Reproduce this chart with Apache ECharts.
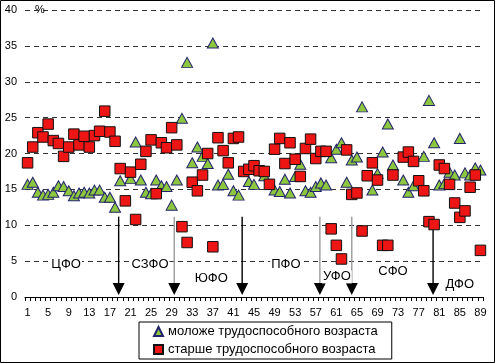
<!DOCTYPE html>
<html><head><meta charset="utf-8">
<script src="https://cdn.jsdelivr.net/npm/echarts@6/dist/echarts.min.js"></script>
<style>html,body{margin:0;padding:0;background:#fff}#c{width:495px;height:363px}</style>
</head><body><div id="c"></div>
<script>
// ---- data ----
const categories = ['1','2','3','4','5','6','7','8','9','10','11','12','13','14','15','16','17','18','19','20','21','22','23','24','25','26','27','28','29','30','31','32','33','34','35','36','37','38','39','40','41','42','43','44','45','46','47','48','49','50','51','52','53','54','55','56','57','58','59','60','61','62','63','64','65','66','67','68','69','70','71','72','73','74','75','76','77','78','79','80','81','82','83','84','85','86','87','88','89'];
const seriesNames = ['моложе трудоспособного возраста', 'старше трудоспособного возраста'];
// younger than working age (%), one value per region 1..89 (null = not visible)
const young = [15.7,16.0,14.6,14.2,14.3,14.6,15.5,15.4,14.8,14.1,
               14.5,14.6,14.5,14.9,14.9,13.9,13.9,12.5,16.2,null,
               16.5,21.6,16.3,14.6,14.4,16.3,15.5,15.4,12.8,16.3,
               24.9,32.7,18.7,20.9,19.6,18.6,35.4,15.6,15.7,17.1,
               14.8,14.2,null,16.1,15.7,null,16.9,null,14.9,14.7,
               16.4,14.5,16.8,18.5,14.8,14.6,15.4,15.9,15.6,19.4,
               20.6,21.5,16.0,19.1,19.5,26.5,null,14.9,17.2,20.2,
               24.1,18.4,null,16.3,14.6,15.5,null,19.6,27.4,21.5,
               15.6,15.8,17.4,17.0,22.1,17.3,17.0,18.0,17.7];
// older than working age (%)
const old = [18.7,20.9,22.9,22.3,24.1,21.8,21.4,19.6,20.9,22.7,
             21.2,22.4,20.9,22.5,23.1,25.9,23.0,21.7,17.9,13.4,
             17.4,10.8,18.5,20.3,21.9,14.4,21.5,20.8,23.6,21.2,
             9.8,7.6,16.0,14.8,17.0,20.0,7.0,22.2,20.4,18.7,
             22.1,22.3,17.5,17.8,18.3,17.6,17.5,15.7,20.6,22.1,
             18.6,21.5,19.2,16.8,20.7,22.0,19.3,20.3,20.3,9.5,
             7.2,5.3,20.5,14.3,14.5,9.2,16.9,18.7,16.3,7.2,
             7.2,17.0,null,19.5,20.2,18.9,16.2,14.8,10.5,10.1,
             18.4,17.9,15.7,13.1,11.1,12.0,15.3,17.0,6.5];
const yTicks = [0,5,10,15,20,25,30,35,40];
// district boundaries (region index) and where arrows start (%)
const arrowAt  = [18.7, 29.5, 42.7, 57.8, 64.0, 79.8];
const arrowTop = [11.2, 11.2, 11.2, 11.2, 11.2, 11.2];
const districtNames = ['ЦФО','СЗФО','ЮФО','ПФО','УФО','СФО','ДФО'];
const districtAnchorX = [8.5, 24.8, 36.7, 51.2, 61.1, 72.0, 85.0];
const districtAnchorY = [4.6, 4.6, 2.6, 4.6, 2.8, 3.5, 1.8];

// ---- styles ----
const grayShaft = [false, true, false, true, true, false];
const FONT = 'Arial, "Liberation Sans", sans-serif';

const chart = echarts.init(document.getElementById('c'), null, {renderer:'canvas'});
chart.setOption({
  animation: false,
  backgroundColor: '#fff',
  textStyle: {fontFamily: FONT},
  grid: {left: 25, right: 12, top: 10, bottom: 66},
  legend: {
    orient: 'vertical', left: 139, top: 322,
    borderColor: '#000', borderWidth: 1, padding: [3, 14, 3, 14],
    itemGap: 5, itemWidth: 9, itemHeight: 9,
    textStyle: {fontSize: 13, color: '#000', fontFamily: FONT},
    data: seriesNames
  },
  xAxis: [{
    type: 'category', data: categories, boundaryGap: true,
    axisLine: {lineStyle: {color: '#000', width: 1}},
    axisTick: {show: true, interval: 0, length: 4, lineStyle: {color: '#000'}},
    axisLabel: {interval: 3, fontSize: 11, color: '#000', margin: 10, fontFamily: FONT},
    splitLine: {show: false}
  }, {
    type: 'value', min: 0.5, max: 89.5, show: false, position: 'bottom',
    splitLine: {show: false}
  }],
  yAxis: {
    type: 'value', min: yTicks[0], max: yTicks[yTicks.length-1], interval: 5,
    name: '%', nameLocation: 'end', nameGap: 0,
    nameTextStyle: {color: '#000', fontSize: 11, align: 'left', verticalAlign: 'middle', padding: [0,0,0,10], fontFamily: FONT},
    axisLine: {show: false}, axisTick: {show: false},
    axisLabel: {fontSize: 11, color: '#000', margin: 8, fontFamily: FONT},
    splitLine: {show: true, lineStyle: {type: [5, 4], color: '#333', width: 1}}
  },
  graphic: [{
    type: 'rect', shape: {x: 0.5, y: 0.5, width: 494, height: 362},
    style: {fill: 'none', stroke: '#000', lineWidth: 1}, silent: true, z: 100
  }],
  series: [
    {
      type: 'custom', xAxisIndex: 1, silent: true, z: 1,
      data: arrowAt.map((x, i) => [x, arrowTop[i], i]),
      renderItem: function (params, api) {
        const i = api.value(2);
        const pTop = api.coord([api.value(0), api.value(1)]);
        const pBot = api.coord([api.value(0), 0]);
        const tipY = pBot[1] - 2;
        return {type: 'group', children: [
          {type: 'line', shape: {x1: pTop[0], y1: pTop[1], x2: pBot[0], y2: tipY - 10},
           style: {stroke: grayShaft[i] ? '#9a9a9a' : '#000', lineWidth: 1.4}},
          {type: 'polygon', shape: {points: [[pBot[0]-6, tipY-12], [pBot[0]+6, tipY-12], [pBot[0], tipY]]},
           style: {fill: '#000'}}
        ]};
      }
    },
    {
      type: 'custom', xAxisIndex: 1, silent: true, z: 2,
      data: districtNames.map((n, i) => [districtAnchorX[i], districtAnchorY[i], i]),
      renderItem: function (params, api) {
        const i = api.value(2);
        const p = api.coord([api.value(0), api.value(1)]);
        return {type: 'text', x: p[0], y: p[1], style: {
          text: districtNames[i], font: '13px ' + FONT, fill: '#000',
          align: 'center', verticalAlign: 'middle', backgroundColor: '#fff', padding: [0, 1]
        }};
      }
    },
    {
      name: seriesNames[0], type: 'scatter', xAxisIndex: 1, z: 3,
      symbol: 'triangle', symbolSize: [11, 10],
      itemStyle: {color: '#8dc63f', borderColor: '#22226e', borderWidth: 1, opacity: 1},
      data: young.map((v, i) => [i + 1, v]).filter(d => d[1] != null)
    },
    {
      name: seriesNames[1], type: 'scatter', xAxisIndex: 1, z: 4,
      symbol: 'rect', symbolSize: 10.5,
      itemStyle: {color: '#ee1515', borderColor: '#111', borderWidth: 1, opacity: 1},
      data: old.map((v, i) => [i + 1, v]).filter(d => d[1] != null)
    }
  ]
});
</script>
</body></html>
